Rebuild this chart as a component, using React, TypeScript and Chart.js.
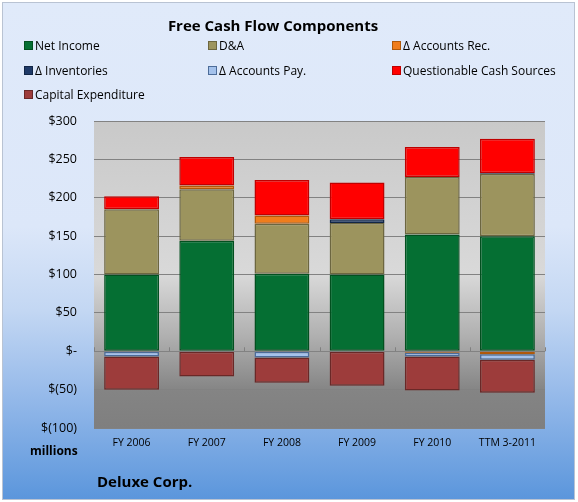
import React, { useEffect, useRef } from "react";
import { Chart, registerables } from "chart.js";

Chart.register(...registerables);

const categories = ["FY 2006", "FY 2007", "FY 2008", "FY 2009", "FY 2010", "TTM 3-2011"];
const netIncome = [100, 144, 101, 100, 152, 150];
const depreciation = [85, 67, 65, 67, 75, 81];
const accountsRec = [null, 5, 11, null, -2, -4];
const inventories = [null, null, null, 5, null, 1];
const accountsPay = [-7, null, -8, null, -5, -7];
const questionable = [17, 37, 46, 48, 39, 45];
const capex = [-43, -33, -33, -45, -44, -43];

const seriesNames = [
  "Net Income",
  "D&A",
  "\u0394 Accounts Rec.",
  "\u0394 Inventories",
  "\u0394 Accounts Pay.",
  "Questionable Cash Sources",
  "Capital Expenditure",
];
const seriesValues = [netIncome, depreciation, accountsRec, inventories, accountsPay, questionable, capex];
const fillColors = ["#056f33", "#9c945e", "#f07d1c", "#1f3a68", "#a4c2ec", "#ff0000", "#9d3c3b"];
const edgeColors = ["#03501f", "#6c6640", "#b0590a", "#122646", "#4c6c99", "#bf0000", "#6a2827"];

const yMin = -100;
const yMax = 300;
const yStep = 50;

const FONT = "'Open Sans', 'Liberation Sans', sans-serif";

function fmt(v: number): string {
  if (v === 0) return "$-";
  if (v < 0) return "$(" + Math.abs(v) + ")";
  return "$" + v;
}

const plotBg = {
  id: "plotBg",
  beforeDraw(chart: any) {
    const { ctx, chartArea } = chart;
    if (!chartArea) return;
    const { left, top, right, bottom } = chartArea;
    const g = ctx.createLinearGradient(0, top, 0, bottom);
    g.addColorStop(0, "#c9c9c9");
    g.addColorStop(0.5, "#d9d9d9");
    g.addColorStop(0.7, "#b0b0b0");
    g.addColorStop(0.88, "#848484");
    g.addColorStop(1, "#7f7f7f");
    ctx.save();
    ctx.fillStyle = g;
    ctx.fillRect(left, top, right - left, bottom - top);
    ctx.restore();
  },
  beforeDatasetsDraw(chart: any) {
    const { ctx, chartArea, scales } = chart;
    const y0 = scales.y.getPixelForValue(0);
    const n = categories.length;
    const w = (chartArea.right - chartArea.left) / n;
    ctx.save();
    ctx.strokeStyle = "#808080";
    ctx.lineWidth = 1;
    for (let i = 0; i <= n; i++) {
      const x = Math.round(chartArea.left + i * w) + 0.5;
      ctx.beginPath();
      ctx.moveTo(x, y0 - 4);
      ctx.lineTo(x, y0);
      ctx.stroke();
    }
    ctx.restore();
  },
};

export default function App() {
  const ref = useRef<HTMLCanvasElement | null>(null);

  useEffect(() => {
    if (!ref.current) return;
    const chart = new Chart(ref.current, {
      type: "bar",
      data: {
        labels: categories,
        datasets: seriesNames.map((name, i) => ({
          label: name,
          data: seriesValues[i] as any,
          backgroundColor: fillColors[i],
          borderColor: edgeColors[i],
          borderWidth: 1.5,
          borderSkipped: false,
          categoryPercentage: 1,
          barPercentage: 0.73,
        })),
      },
      options: {
        animation: false,
        responsive: false,
        maintainAspectRatio: false,
        layout: { padding: { top: 121, right: 33, bottom: 0, left: 0 } },
        plugins: {
          legend: { display: false },
          title: { display: false },
          tooltip: { enabled: false },
        },
        scales: {
          x: {
            stacked: true,
            grid: { display: false, drawTicks: false },
            border: { display: false },
            ticks: {
              color: "#000",
              font: { family: FONT, size: 10.5 },
              padding: 9,
              maxRotation: 0,
              autoSkip: false,
            },
            afterFit(scale: any) {
              scale.height = 74;
            },
          },
          y: {
            stacked: true,
            min: yMin,
            max: yMax,
            grid: { color: "#828282", lineWidth: 1, drawTicks: false },
            border: { display: false },
            ticks: {
              stepSize: yStep,
              color: "#000",
              font: { family: FONT, size: 12.5 },
              padding: 17,
              callback: (v: any) => fmt(Number(v)),
            },
            afterFit(scale: any) {
              scale.width = 94;
            },
          },
        },
      },
      plugins: [plotBg],
    });
    return () => chart.destroy();
  }, []);

  const colX = [24, 208, 392];
  const rowY = [45, 70, 94];

  return (
    <div style={{ position: "absolute", left: 0, top: 0, width: 578, height: 502, background: "#ffffff", overflow: "hidden" }}>
      <div
        style={{
          position: "absolute",
          left: 2,
          top: 2,
          width: 571,
          height: 496,
          border: "1px solid #b9c3d3",
          background: "linear-gradient(to bottom, #e0eafa 0%, #dce7f9 45%, #c3d7f3 62%, #93b8e9 80%, #5b96dc 100%)",
        }}
      />
      <canvas ref={ref} width={578} height={502} style={{ position: "absolute", left: 0, top: 0, width: 578, height: 502 }} />
      <div
        style={{
          position: "absolute",
          left: 0,
          width: 546,
          top: 14,
          textAlign: "center",
          fontFamily: FONT,
          fontWeight: 700,
          fontSize: 15,
          lineHeight: "22px",
          color: "#000",
        }}
      >
        Free Cash Flow Components
      </div>
      {seriesNames.map((name, i) => (
        <div
          key={name}
          style={{
            position: "absolute",
            left: colX[i % 3],
            top: rowY[Math.floor(i / 3)] - 9,
            height: 18,
            display: "flex",
            alignItems: "center",
            fontFamily: FONT,
            fontSize: 12,
            color: "#000",
            whiteSpace: "nowrap",
          }}
        >
          <span
            style={{
              display: "inline-block",
              width: 7,
              height: 7,
              background: fillColors[i],
              border: "1px solid " + edgeColors[i],
              marginRight: 2,
            }}
          />
          {name}
        </div>
      ))}
      <div
        style={{
          position: "absolute",
          left: 30,
          top: 442,
          fontFamily: FONT,
          fontWeight: 700,
          fontSize: 12,
          lineHeight: "18px",
          color: "#000",
        }}
      >
        millions
      </div>
      <div
        style={{
          position: "absolute",
          left: 97,
          top: 470,
          fontFamily: FONT,
          fontWeight: 700,
          fontSize: 15,
          lineHeight: "22px",
          color: "#000",
        }}
      >
        Deluxe Corp.
      </div>
    </div>
  );
}
